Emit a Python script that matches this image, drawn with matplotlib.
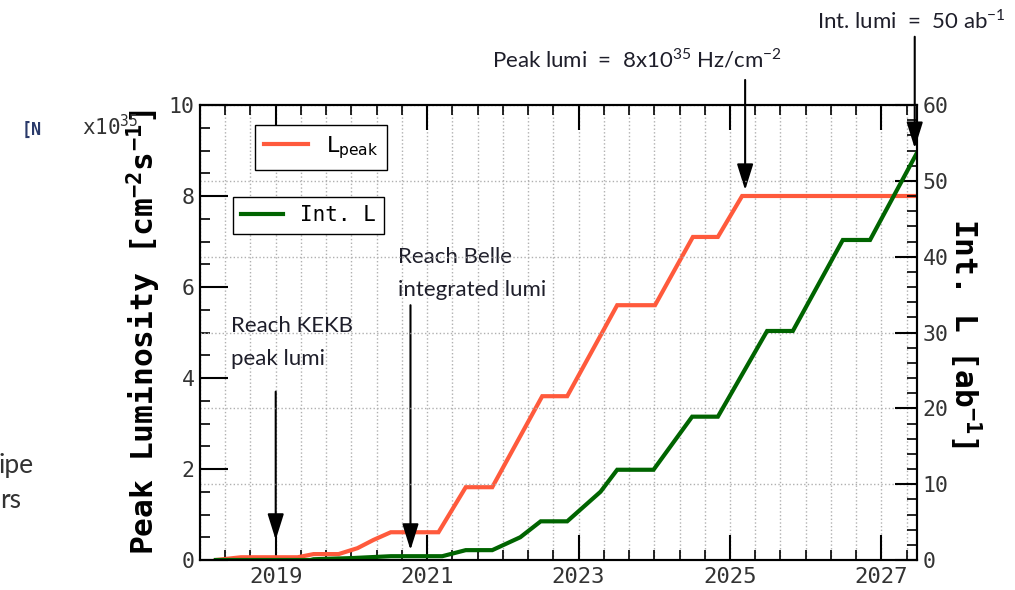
import numpy as np
import matplotlib
matplotlib.use('Agg')
import matplotlib.pyplot as plt
from matplotlib.ticker import MultipleLocator
from matplotlib.lines import Line2D

plt.rcParams['mathtext.fontset'] = 'custom'
plt.rcParams['mathtext.rm'] = 'DejaVu Sans Mono'
plt.rcParams['mathtext.bf'] = 'DejaVu Sans Mono:bold'
plt.rcParams['mathtext.sf'] = 'Lato'
plt.rcParams['mathtext.it'] = 'DejaVu Sans'

# Peak luminosity [x10^35 cm^-2 s^-1]
peak_years = [2018.21, 2018.54, 2019.29, 2019.50, 2019.83, 2020.08, 2020.29, 2020.52,
              2021.15, 2021.51, 2021.86, 2022.52, 2022.85, 2023.51, 2024.01, 2024.51,
              2024.84, 2025.16, 2027.47]
peak_lumi = [0.0, 0.06, 0.06, 0.13, 0.13, 0.26, 0.44, 0.61,
             0.61, 1.6, 1.6, 3.6, 3.6, 5.6, 5.6, 7.1,
             7.1, 8.0, 8.0]

# Integrated luminosity [ab^-1]
int_years = [2018.21, 2019.46, 2019.50, 2020.0, 2020.52, 2021.2, 2021.51, 2021.86,
             2022.23, 2022.50, 2022.85, 2023.29, 2023.51, 2023.99, 2024.50, 2024.84,
             2025.49, 2025.83, 2026.49, 2026.85, 2027.47]
int_lumi = [0.0, 0.0, 0.1, 0.25, 0.5, 0.5, 1.3, 1.3,
            3.0, 5.1, 5.1, 9.0, 11.9, 11.9, 18.9, 18.9,
            30.2, 30.2, 42.2, 42.2, 53.7]

year_labels = ['2019', '2021', '2023', '2025', '2027']

red = '#ff5a3c'
green = '#006400'
txt_col = '#1e1e2a'
mono = 'DejaVu Sans Mono'

fig = plt.figure(figsize=(10.15, 5.9), dpi=100)
ax = fig.add_axes([200/1015, 30/590, 717/1015, 455/590])
ax2 = ax.twinx()

ax.plot(peak_years, peak_lumi, color=red, lw=3, solid_joinstyle='miter')
ax2.plot(int_years, int_lumi, color=green, lw=3, solid_joinstyle='miter')

ax.set_xlim(2018.0, 2027.47)
ax.set_ylim(0, 10)
ax2.set_ylim(0, 60)

# x axis
ax.set_xticks([int(y) for y in year_labels])
ax.set_xticklabels(year_labels)
ax.xaxis.set_minor_locator(MultipleLocator(1/3))
ax.tick_params(axis='x', which='major', direction='in', length=18, width=1.5,
               top=True, bottom=True, labelsize=16, labelcolor='#333333', pad=5)
ax.tick_params(axis='x', which='minor', direction='in', length=7, width=1.2,
               top=True, bottom=True)

# left y
ax.yaxis.set_major_locator(MultipleLocator(2))
ax.yaxis.set_minor_locator(MultipleLocator(0.5))
ax.tick_params(axis='y', which='major', direction='in', length=20, width=1.5,
               left=True, right=False, labelsize=15.5, labelcolor='#333333', pad=4)
ax.tick_params(axis='y', which='minor', direction='in', length=7, width=1.2,
               left=True, right=False)

# right y
ax2.yaxis.set_major_locator(MultipleLocator(10))
ax2.yaxis.set_minor_locator(MultipleLocator(2))
ax2.tick_params(axis='y', which='major', direction='in', length=16, width=1.5,
                labelsize=15.5, labelcolor='#333333', pad=4)
ax2.tick_params(axis='y', which='minor', direction='in', length=7, width=1.2)
for lab in ax.get_xticklabels() + ax.get_yticklabels() + ax2.get_yticklabels():
    lab.set_family(mono)

for a in (ax, ax2):
    for s in a.spines.values():
        s.set_linewidth(1.5)

# grid
ax.xaxis.grid(True, which='both', linestyle=':', color='#b0b0b0', lw=1)
ax2.yaxis.grid(True, which='major', linestyle=':', color='#b0b0b0', lw=1)
ax.set_axisbelow(True)

# axis labels
ax.set_ylabel(r'Peak Luminosity [cm$^{\mathbf{-2}}$s$^{\mathbf{-1}}$]',
              family=mono, weight='bold', size=22.5)
ax.yaxis.set_label_coords(-0.052, 0.5)
ax2.set_ylabel(r'Int. L [ab$^{\mathbf{-1}}$]', family=mono, weight='bold',
               size=22.5, rotation=270, va='center')
ax2.yaxis.set_label_coords(1.067, 0.5)
fig.text(82/1015, 1 - 127/590, r'x10$^{35}$', family=mono, size=15,
         color='#333333', va='center')

# legends
h1 = Line2D([], [], color=red, lw=3)
h2 = Line2D([], [], color=green, lw=3)
fig.legend([h1], [r'$\mathit{L_{peak}}$'], loc='upper left',
           bbox_to_anchor=(255/1015, 1 - 125/590), fancybox=False, edgecolor='black',
           framealpha=1, borderaxespad=0, handlelength=2.0, prop={'size': 16})
fig.legend([h2], ['Int. L'], loc='upper left',
           bbox_to_anchor=(233/1015, 1 - 197/590), fancybox=False, edgecolor='black',
           framealpha=1, borderaxespad=0, handlelength=2.0,
           prop={'family': mono, 'size': 15})

# annotations
arrow = dict(arrowstyle='-|>,head_length=1.6,head_width=0.5', color='black',
             lw=1.5, shrinkA=0, shrinkB=0, mutation_scale=10)
ax.annotate('', xy=(2019.0, 0.44), xytext=(2019.0, 3.7), arrowprops=arrow,
            annotation_clip=False)
ax.annotate('', xy=(2020.78, 0.22), xytext=(2020.78, 5.6), arrowprops=arrow,
            annotation_clip=False)
ax.annotate('', xy=(2025.2, 8.13), xytext=(2025.2, 10.55), arrowprops=arrow,
            annotation_clip=False)
ax.annotate('', xy=(2027.44, 9.05), xytext=(2027.44, 11.5), arrowprops=arrow,
            annotation_clip=False)

tkw = dict(family='Lato', size=16, color=txt_col, clip_on=False)
ax.text(2018.41, 5.01, 'Reach KEKB', **tkw)
ax.text(2018.41, 4.29, 'peak lumi', **tkw)
ax.text(2020.61, 6.53, 'Reach Belle', **tkw)
ax.text(2020.61, 5.80, 'integrated lumi', **tkw)
ax.text(2021.86, 10.84, r'Peak lumi  =  8x10$^{\mathsf{35}}$ Hz/cm$^{\mathsf{-2}}$', **tkw)
ax.text(2026.15, 11.69, r'Int. lumi  =  50 ab$^{\mathsf{-1}}$', **tkw)

# bits of the slide around the chart
fig.text(22/1015, 1 - 130/590, '[N', family=mono, weight='bold', size=12,
         color='#2a3a6a', va='center')
fig.text(34/1015, 1 - 465/590, 'ipe', family='Lato', size=19, color='#333333',
         ha='right', va='center')
fig.text(21/1015, 1 - 500/590, 'rs', family='Lato', size=19, color='#333333',
         ha='right', va='center')

fig.savefig('out.png', dpi=100)
